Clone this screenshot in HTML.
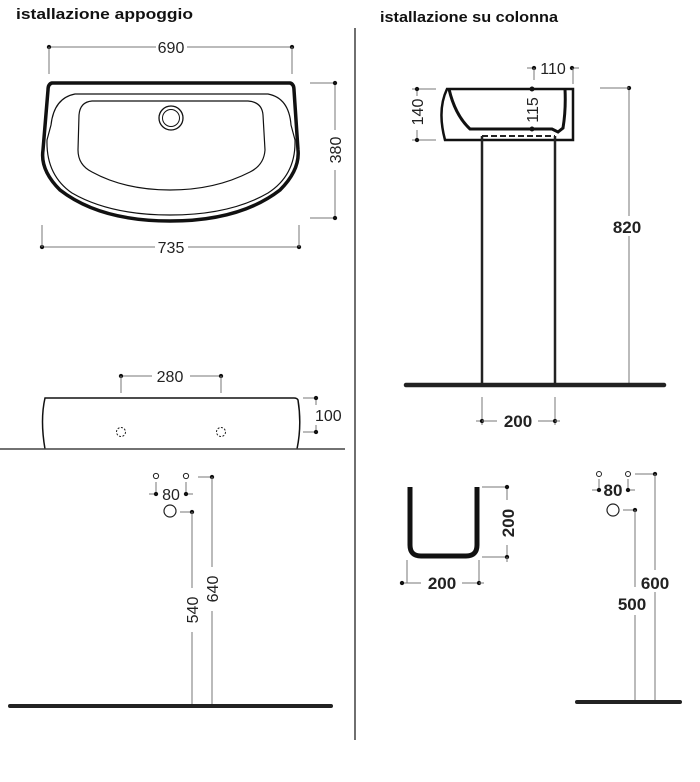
<!DOCTYPE html>
<html><head><meta charset="utf-8"><style>
html,body{margin:0;padding:0;background:#fff;}
svg{display:block;font-family:"Liberation Sans",sans-serif;}
.t{font-size:16px;fill:#222;}
.b{font-size:17px;font-weight:bold;fill:#222;}
.d{stroke:#777;stroke-width:1;fill:none;}
.k{stroke:#111;fill:none;}
</style></head><body>
<svg width="700" height="782" viewBox="0 0 700 782" xmlns="http://www.w3.org/2000/svg">
<defs><marker id="m" viewBox="0 0 6 6" refX="3" refY="3" markerWidth="5" markerHeight="5"><circle cx="3" cy="3" r="2.6" fill="#111"/></marker></defs>
<text x="16" y="19" font-size="15" font-weight="bold" fill="#111" textLength="177" lengthAdjust="spacingAndGlyphs">istallazione appoggio</text>
<text x="380" y="22" font-size="15" font-weight="bold" fill="#111" textLength="178" lengthAdjust="spacingAndGlyphs">istallazione su colonna</text>
<line x1="355" y1="28" x2="355" y2="740" stroke="#222" stroke-width="1.3"/>

<!-- top view basin -->
<line class="d" x1="49" y1="47" x2="156" y2="47" marker-start="url(#m)"/>
<line class="d" x1="187" y1="47" x2="292" y2="47" marker-end="url(#m)"/>
<text class="t" x="171" y="53" text-anchor="middle">690</text>
<line class="d" x1="49" y1="47" x2="49" y2="74"/><line class="d" x1="292" y1="47" x2="292" y2="74"/>
<path class="k" stroke-width="3.5" d="M52 83 L290 83 Q294 84 294 90 L298 150 Q300 170 280 190 Q240 221 170 221 Q100 221 60 190 Q40 170 43 150 L48 90 Q48 84 52 83 Z"/>
<path class="k" stroke-width="1.2" d="M75 94 L268 94 Q289 98 291 125 L295 140 Q296 175 268 193 Q230 215 170 215 Q110 215 72 193 Q46 175 47 140 L51 125 Q54 98 75 94 Z"/>
<path class="k" stroke-width="1.2" d="M92 101 L248 101 Q262 102 263 115 L265 150 Q264 165 250 172 Q215 190 170 190 Q125 190 92 172 Q78 165 78 150 L79 115 Q80 102 92 101 Z"/>
<circle class="k" stroke-width="1.3" cx="171" cy="118" r="12"/><circle class="k" stroke-width="1" cx="171" cy="118" r="8.5"/>
<line class="d" x1="310" y1="83" x2="335" y2="83"/><line class="d" x1="310" y1="218" x2="335" y2="218"/>
<line class="d" x1="335" y1="83" x2="335" y2="130" marker-start="url(#m)"/>
<line class="d" x1="335" y1="170" x2="335" y2="218" marker-end="url(#m)"/>
<text class="t" x="0" y="0" text-anchor="middle" transform="translate(341 150) rotate(-90)">380</text>
<line class="d" x1="42" y1="247" x2="155" y2="247" marker-start="url(#m)"/>
<line class="d" x1="188" y1="247" x2="299" y2="247" marker-end="url(#m)"/>
<text class="t" x="171" y="253" text-anchor="middle">735</text>
<line class="d" x1="42" y1="225" x2="42" y2="247"/><line class="d" x1="299" y1="225" x2="299" y2="247"/>

<!-- side view -->
<line class="d" x1="121" y1="376" x2="152" y2="376" marker-start="url(#m)"/>
<line class="d" x1="190" y1="376" x2="221" y2="376" marker-end="url(#m)"/>
<line class="d" x1="121" y1="376" x2="121" y2="393"/><line class="d" x1="221" y1="376" x2="221" y2="393"/>
<text class="t" x="170" y="382" text-anchor="middle">280</text>
<path class="k" stroke-width="1.5" d="M45 449 Q40 420 45 398 Q46 398 50 398 L294 398 Q297 398 298 400 Q302 425 297 449"/>
<line x1="0" y1="449" x2="345" y2="449" stroke="#444" stroke-width="1.5"/>
<circle cx="121" cy="432" r="4.5" fill="none" stroke="#222" stroke-dasharray="2 1.5"/>
<circle cx="221" cy="432" r="4.5" fill="none" stroke="#222" stroke-dasharray="2 1.5"/>
<line class="d" x1="303" y1="398" x2="316" y2="398"/><line class="d" x1="303" y1="432" x2="316" y2="432"/>
<line class="d" x1="316" y1="398" x2="316" y2="405" marker-start="url(#m)"/>
<line class="d" x1="316" y1="425" x2="316" y2="432" marker-end="url(#m)"/>
<text class="t" x="315" y="421">100</text>

<!-- left lower -->
<circle cx="156" cy="476" r="2.6" fill="none" stroke="#222"/><circle cx="186" cy="476" r="2.6" fill="none" stroke="#222"/>
<line class="d" x1="156" y1="482" x2="156" y2="494"/><line class="d" x1="186" y1="482" x2="186" y2="494"/>
<line class="d" x1="149" y1="494" x2="156" y2="494" marker-end="url(#m)"/>
<line class="d" x1="186" y1="494" x2="193" y2="494" marker-start="url(#m)"/>
<text class="t" x="171" y="500" text-anchor="middle">80</text>
<circle cx="170" cy="511" r="6" fill="none" stroke="#222" stroke-width="1.2"/>
<line class="d" x1="198" y1="477" x2="212" y2="477" marker-end="url(#m)"/>
<line class="d" x1="180" y1="512" x2="192" y2="512" marker-end="url(#m)"/>
<line class="d" x1="192" y1="512" x2="192" y2="588"/><line class="d" x1="192" y1="632" x2="192" y2="706"/>
<line class="d" x1="212" y1="477" x2="212" y2="567"/><line class="d" x1="212" y1="611" x2="212" y2="706"/>
<text class="t" x="0" y="0" text-anchor="middle" transform="translate(198 610) rotate(-90)">540</text>
<text class="t" x="0" y="0" text-anchor="middle" transform="translate(218 589) rotate(-90)">640</text>
<line x1="10" y1="706" x2="331" y2="706" stroke="#222" stroke-width="4" stroke-linecap="round"/>

<!-- right top basin on column -->
<path class="k" stroke-width="2.5" d="M447 89 L573 89 L573 140 L445 140 Q437 110 447 89 Z"/>
<path class="k" stroke-width="3" d="M449 89 Q455 115 470 129 L552 129 L558 132 L563 128 Q566 110 565 89"/>
<line x1="482" y1="136" x2="555" y2="136" stroke="#222" stroke-width="2" stroke-dasharray="6 3"/>
<line x1="482" y1="136" x2="482" y2="385" stroke="#222" stroke-width="2.5"/>
<line x1="555" y1="136" x2="555" y2="385" stroke="#222" stroke-width="2.5"/>
<line class="d" x1="629" y1="88" x2="629" y2="385" marker-start="url(#m)"/>
<line class="d" x1="600" y1="88" x2="629" y2="88"/>
<rect x="610" y="216" width="38" height="20" fill="#fff"/>
<text class="b" x="627" y="233" text-anchor="middle">820</text>
<line x1="406" y1="385" x2="664" y2="385" stroke="#222" stroke-width="4.5" stroke-linecap="round"/>
<line class="d" x1="412" y1="89" x2="436" y2="89"/><line class="d" x1="412" y1="140" x2="436" y2="140"/>
<line class="d" x1="417" y1="89" x2="417" y2="96" marker-start="url(#m)"/>
<line class="d" x1="417" y1="130" x2="417" y2="140" marker-end="url(#m)"/>
<text class="t" x="0" y="0" text-anchor="middle" transform="translate(423 112) rotate(-90)">140</text>
<line class="d" x1="527" y1="68" x2="534" y2="68" marker-end="url(#m)"/>
<line class="d" x1="572" y1="68" x2="579" y2="68" marker-start="url(#m)"/>
<line class="d" x1="534" y1="68" x2="534" y2="80"/><line class="d" x1="573" y1="68" x2="573" y2="84"/>
<text class="t" x="553" y="74" text-anchor="middle">110</text>
<circle cx="532" cy="89" r="2.5" fill="#111"/><circle cx="532" cy="129" r="2.5" fill="#111"/>
<text class="t" x="0" y="0" text-anchor="middle" transform="translate(538 110) rotate(-90)">115</text>
<line class="d" x1="482" y1="397" x2="482" y2="425"/><line class="d" x1="555" y1="397" x2="555" y2="425"/>
<line class="d" x1="476" y1="421" x2="482" y2="421" marker-end="url(#m)"/>
<line class="d" x1="482" y1="421" x2="497" y2="421"/>
<line class="d" x1="538" y1="421" x2="555" y2="421" marker-end="url(#m)"/>
<line class="d" x1="555" y1="421" x2="560" y2="421"/>
<text class="b" x="518" y="427" text-anchor="middle">200</text>

<!-- U column -->
<path class="k" stroke-width="5" d="M410 487 L410 545 Q410 556 421 556 L466 556 Q477 556 477 545 L477 487"/>
<line class="d" x1="482" y1="487" x2="507" y2="487"/><line class="d" x1="482" y1="557" x2="507" y2="557"/>
<line class="d" x1="507" y1="487" x2="507" y2="500" marker-start="url(#m)"/>
<line class="d" x1="507" y1="545" x2="507" y2="557" marker-end="url(#m)"/>
<line class="d" x1="507" y1="557" x2="507" y2="562"/>
<text class="b" x="0" y="0" text-anchor="middle" transform="translate(514 523) rotate(-90)">200</text>
<line class="d" x1="407" y1="560" x2="407" y2="583"/><line class="d" x1="479" y1="560" x2="479" y2="583"/>
<line class="d" x1="402" y1="583" x2="421" y2="583" marker-start="url(#m)"/>
<line class="d" x1="462" y1="583" x2="479" y2="583" marker-end="url(#m)"/>
<line class="d" x1="479" y1="583" x2="484" y2="583"/>
<text class="b" x="442" y="589" text-anchor="middle">200</text>

<!-- right lower -->
<circle cx="599" cy="474" r="2.5" fill="none" stroke="#222"/><circle cx="628" cy="474" r="2.5" fill="none" stroke="#222"/>
<line class="d" x1="599" y1="479" x2="599" y2="490"/><line class="d" x1="628" y1="479" x2="628" y2="490"/>
<line class="d" x1="592" y1="490" x2="599" y2="490" marker-end="url(#m)"/>
<line class="d" x1="628" y1="490" x2="635" y2="490" marker-start="url(#m)"/>
<text class="b" x="613" y="496" text-anchor="middle">80</text>
<circle cx="613" cy="510" r="6" fill="none" stroke="#222" stroke-width="1.2"/>
<line class="d" x1="623" y1="510" x2="635" y2="510" marker-end="url(#m)"/>
<line class="d" x1="635" y1="510" x2="635" y2="587"/><line class="d" x1="635" y1="615" x2="635" y2="700"/>
<line class="d" x1="635" y1="474" x2="655" y2="474" marker-end="url(#m)"/>
<line class="d" x1="655" y1="474" x2="655" y2="570"/><line class="d" x1="655" y1="592" x2="655" y2="700"/>
<text class="b" x="655" y="589" text-anchor="middle">600</text>
<text class="b" x="632" y="610" text-anchor="middle">500</text>
<line x1="577" y1="702" x2="680" y2="702" stroke="#222" stroke-width="4" stroke-linecap="round"/>
</svg>
</body></html>
